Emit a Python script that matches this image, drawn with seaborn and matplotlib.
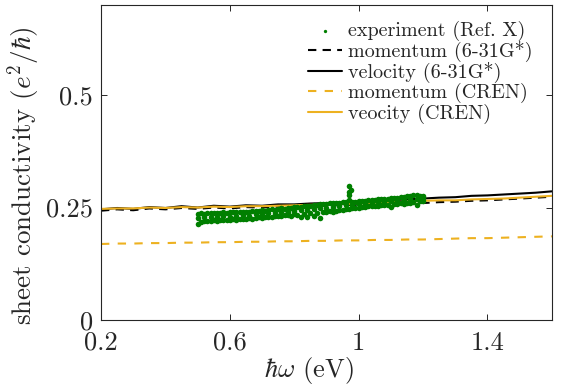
import numpy as np
import pandas as pd
import seaborn as sns
import matplotlib
matplotlib.use("Agg")
import matplotlib.pyplot as plt

# photon energy grid for the calculated curves (eV)
energy = [0.20, 0.25, 0.30, 0.35, 0.40, 0.45, 0.50, 0.55, 0.60, 0.65,
          0.70, 0.75, 0.80, 0.85, 0.90, 0.95, 1.00, 1.05, 1.10, 1.15,
          1.20, 1.25, 1.30, 1.35, 1.40, 1.45, 1.50, 1.55, 1.60]

velocity_631 = [0.246, 0.249, 0.247, 0.251, 0.249, 0.253, 0.250, 0.254, 0.252, 0.255,
                0.254, 0.257, 0.257, 0.259, 0.260, 0.262, 0.263, 0.265, 0.266, 0.268,
                0.270, 0.272, 0.273, 0.276, 0.277, 0.279, 0.281, 0.283, 0.286]
momentum_631 = [0.243, 0.246, 0.244, 0.248, 0.246, 0.249, 0.247, 0.250, 0.248, 0.251,
                0.250, 0.252, 0.252, 0.254, 0.254, 0.256, 0.256, 0.258, 0.258, 0.260,
                0.260, 0.262, 0.263, 0.265, 0.266, 0.268, 0.270, 0.272, 0.274]
velocity_cren = [0.247, 0.248, 0.248, 0.250, 0.249, 0.251, 0.250, 0.252, 0.251, 0.253,
                 0.253, 0.254, 0.255, 0.256, 0.257, 0.258, 0.259, 0.261, 0.262, 0.263,
                 0.265, 0.266, 0.266, 0.268, 0.269, 0.270, 0.272, 0.274, 0.276]
momentum_cren = [0.169, 0.170, 0.170, 0.171, 0.171, 0.172, 0.172, 0.173, 0.173, 0.174,
                 0.174, 0.175, 0.175, 0.176, 0.176, 0.177, 0.177, 0.178, 0.178, 0.179,
                 0.179, 0.180, 0.181, 0.182, 0.182, 0.183, 0.184, 0.185, 0.186]

exp_x = [0.50, 0.51, 0.52, 0.53, 0.54, 0.55, 0.56, 0.57, 0.58, 0.59,
         0.60, 0.61, 0.62, 0.63, 0.64, 0.65, 0.66, 0.67, 0.68, 0.69,
         0.70, 0.71, 0.72, 0.73, 0.74, 0.75, 0.76, 0.77, 0.78, 0.79,
         0.80, 0.81, 0.82, 0.83, 0.84, 0.85, 0.86, 0.87, 0.88, 0.89,
         0.90, 0.91, 0.92, 0.93, 0.94, 0.95, 0.96, 0.97, 0.98, 0.99,
         1.00, 1.01, 1.02, 1.03, 1.04, 1.05, 1.06, 1.07, 1.08, 1.09,
         1.10, 1.11, 1.12, 1.13, 1.14, 1.15, 1.16, 1.17, 1.18, 1.19, 1.20]
exp_upper = [0.236, 0.237, 0.236, 0.237, 0.238, 0.237, 0.238, 0.238, 0.239, 0.238,
             0.239, 0.240, 0.239, 0.240, 0.241, 0.240, 0.241, 0.242, 0.242, 0.243,
             0.244, 0.243, 0.245, 0.246, 0.245, 0.247, 0.248, 0.247, 0.249, 0.250,
             0.251, 0.252, 0.251, 0.253, 0.254, 0.253, 0.255, 0.256, 0.257, 0.258,
             0.258, 0.259, 0.260, 0.260, 0.261, 0.262, 0.263, 0.266, 0.262, 0.263,
             0.264, 0.265, 0.265, 0.266, 0.267, 0.267, 0.268, 0.269, 0.269, 0.270,
             0.271, 0.271, 0.272, 0.273, 0.274, 0.275, 0.276, 0.277, 0.277, 0.276, 0.275]
exp_lower = [0.214, 0.218, 0.220, 0.221, 0.220, 0.222, 0.221, 0.222, 0.223, 0.222,
             0.223, 0.224, 0.223, 0.224, 0.225, 0.224, 0.226, 0.225, 0.227, 0.228,
             0.227, 0.229, 0.230, 0.229, 0.231, 0.232, 0.231, 0.233, 0.234, 0.232,
             0.235, 0.234, 0.228, 0.236, 0.230, 0.237, 0.232, 0.238, 0.226, 0.240,
             0.241, 0.242, 0.240, 0.243, 0.244, 0.245, 0.246, 0.247, 0.248, 0.249,
             0.250, 0.251, 0.252, 0.253, 0.253, 0.254, 0.253, 0.255, 0.256, 0.255,
             0.252, 0.257, 0.258, 0.259, 0.258, 0.260, 0.261, 0.262, 0.256, 0.264, 0.265]
exp_mid_x = [0.50, 0.52, 0.54, 0.56, 0.58, 0.60, 0.62, 0.64, 0.66, 0.68,
             0.70, 0.72, 0.74, 0.76, 0.78, 0.80, 0.82, 0.84, 0.86, 0.88,
             0.90, 0.92, 0.94, 0.96, 0.98, 1.00, 1.02, 1.04, 1.06, 1.08,
             1.10, 1.12, 1.14, 1.16, 1.18, 1.20]
exp_mid = [0.226, 0.229, 0.228, 0.230, 0.231, 0.230, 0.232, 0.233, 0.232, 0.235,
           0.236, 0.237, 0.238, 0.240, 0.241, 0.243, 0.244, 0.245, 0.246, 0.248,
           0.249, 0.251, 0.253, 0.255, 0.256, 0.257, 0.259, 0.260, 0.262, 0.262,
           0.264, 0.265, 0.267, 0.268, 0.270, 0.271]
spike_x = [0.97, 0.97, 0.975, 0.97]
spike_y = [0.297, 0.285, 0.290, 0.278]

green = "#007F00"
orange = "#EDB120"

sns.set_style("ticks")
plt.rcParams["font.family"] = ["cmr10", "DejaVu Serif"]
plt.rcParams["mathtext.fontset"] = "cm"
plt.rcParams["axes.unicode_minus"] = False
plt.rcParams["axes.formatter.use_mathtext"] = True

exp = pd.DataFrame({
    "E": exp_x + exp_x + exp_mid_x + spike_x,
    "s": exp_upper + exp_lower + exp_mid + spike_y,
})
calc = pd.DataFrame({
    "E": energy,
    "mom631": momentum_631,
    "vel631": velocity_631,
    "momcren": momentum_cren,
    "velcren": velocity_cren,
})

fig = plt.figure(figsize=(5.84, 3.87), dpi=100)
ax = fig.add_axes([0.173, 0.173, 0.772, 0.814])

sns.scatterplot(data=exp, x="E", y="s", ax=ax, color=green, s=16,
                linewidth=0, label="experiment (Ref. X)", zorder=3)
sns.lineplot(data=calc, x="E", y="mom631", ax=ax, color="black", lw=1.5,
             label="momentum (6-31G*)", zorder=2).lines[-1].set_dashes([4, 3])
sns.lineplot(data=calc, x="E", y="vel631", ax=ax, color="black", lw=1.5,
             label="velocity (6-31G*)", zorder=2)
sns.lineplot(data=calc, x="E", y="momcren", ax=ax, color=orange, lw=1.5,
             label="momentum (CREN)", zorder=2).lines[-1].set_dashes([4, 4])
sns.lineplot(data=calc, x="E", y="velcren", ax=ax, color=orange, lw=1.5,
             label="veocity (CREN)", zorder=2)

ax.set_xlim(0.2, 1.6)
ax.set_ylim(0, 0.7)
ax.set_xticks([0.2, 0.6, 1.0, 1.4])
ax.set_xticklabels(["0.2", "0.6", "1", "1.4"])
ax.set_yticks([0, 0.25, 0.5])
ax.set_yticklabels(["0", "0.25", "0.5"])
ax.tick_params(direction="in", top=True, right=True, length=4, width=0.7,
               labelsize=19)
ax.tick_params(axis="x", pad=8)
ax.tick_params(axis="y", pad=6)
for sp in ax.spines.values():
    sp.set_linewidth(0.8)
    sp.set_color("#262626")

ax.set_xlabel(r"$\hbar\omega$ (eV)", fontsize=19)
ax.xaxis.set_label_coords(0.46, -0.112)
ax.set_ylabel(r"sheet conductivity ($e^2/\hbar$)", fontsize=19.5)
ax.yaxis.set_label_coords(-0.13, 0.457)

leg = ax.legend(loc="upper right", bbox_to_anchor=(0.975, 0.975), frameon=False,
                fontsize=14.5, handlelength=1.7, handletextpad=0.3,
                labelspacing=0.0, borderaxespad=0.0, markerscale=0.6)

fig.savefig("out.png", dpi=100)
